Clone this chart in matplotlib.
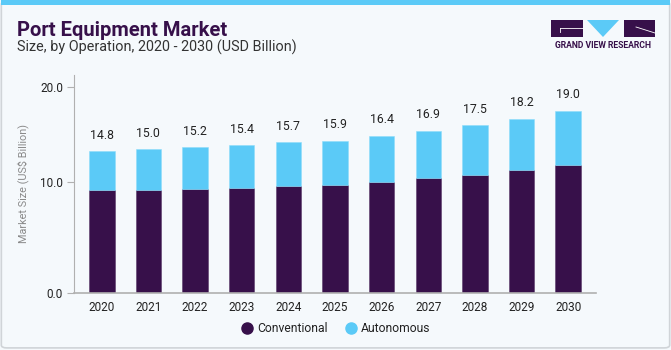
import numpy as np
import matplotlib
matplotlib.use("Agg")
import matplotlib.pyplot as plt
from matplotlib.patches import Rectangle, Polygon, FancyBboxPatch
from matplotlib.lines import Line2D

years = ["2020", "2021", "2022", "2023", "2024", "2025", "2026", "2027", "2028", "2029", "2030"]
totals = [14.8, 15.0, 15.2, 15.4, 15.7, 15.9, 16.4, 16.9, 17.5, 18.2, 19.0]
conventional = [10.7, 10.76, 10.87, 10.97, 11.15, 11.29, 11.6, 11.95, 12.33, 12.82, 13.31]
autonomous = [t - c for t, c in zip(totals, conventional)]

# the source puts its tick labels a bit off the bar scale; keep them where they sit
ytick_pos = [0, 11.6, 21.5]
ytick_labels = ["0.0", "10.0", "20.0"]

purple = "#37104a"
cyan = "#5bcaf7"
bg = "#f5f9fc"

plt.rcParams["font.family"] = ["Roboto", "DejaVu Sans"]

fig = plt.figure(figsize=(6.71, 3.5), dpi=100, facecolor=bg)


def fx(px):
    return px / 671


def fy(py):
    return 1 - py / 350


# frame and top stripe
fig.patches.append(FancyBboxPatch((0.002, 0.006), 0.996, 0.99, boxstyle="round,pad=0,rounding_size=0.008",
                                  transform=fig.transFigure, facecolor="none", edgecolor="#d0d4d8", lw=1.2))
fig.patches.append(Rectangle((0.002, fy(5)), 0.996, 5 / 350, transform=fig.transFigure,
                             facecolor=cyan, edgecolor="none"))

ax = fig.add_axes([fx(74), fy(292.7), (595.7 - 74) / 671, (292.7 - 75) / 350])
ax.set_facecolor("none")

x = np.arange(len(years))
w = 0.547
ax.bar(x, conventional, w, color=purple, edgecolor="#5a3a6a", lw=0.4)
ax.bar(x, autonomous, w, bottom=conventional, color=cyan, edgecolor="#8fdcfa", lw=0.4)

for xi, t in zip(x, totals):
    ax.text(xi, t + 1.0, f"{t:.1f}", ha="center", va="bottom", fontsize=8.8, color="#222222")

ax.set_xlim(-0.596, 10.59)
ax.set_ylim(0, 22.75)
ax.set_xticks(x)
ax.set_xticklabels(years, fontsize=8.5, color="#222222")
ax.set_yticks(ytick_pos)
ax.set_yticklabels(ytick_labels, fontsize=8.5, color="#222222")
ax.tick_params(axis="x", length=0, pad=6)
ax.tick_params(axis="y", length=5, color="#b0b0b0", width=0.8, pad=3)
for s in ["top", "right"]:
    ax.spines[s].set_visible(False)
ax.spines["left"].set_color("#b0b0b0")
ax.spines["bottom"].set_color("#b0b0b0")
ax.spines["bottom"].set_linewidth(1.2)
ax.set_ylabel("Market Size (US$ Billion)", fontsize=7.8, color="#8a8a8a", labelpad=8)

# titles
fig.text(fx(17), fy(36), "Port Equipment Market", fontsize=14.5, fontweight="bold",
         color=purple, va="baseline")
fig.text(fx(17), fy(51.7), "Size, by Operation, 2020 - 2030 (USD Billion)", fontsize=10.4,
         color="#333333", va="baseline")

# logo
fig.patches.append(Rectangle((fx(551), fy(37)), fx(583) - fx(551), fy(20) - fy(37), transform=fig.transFigure,
                             facecolor=purple, edgecolor="none"))
fig.patches.append(Polygon([(fx(587), fy(20)), (fx(619), fy(20)), (fx(603), fy(37))], closed=True,
                           transform=fig.transFigure, facecolor=cyan, edgecolor="none"))
fig.patches.append(Rectangle((fx(624), fy(37)), fx(655) - fx(624), fy(20) - fy(37), transform=fig.transFigure,
                             facecolor=purple, edgecolor="none"))
fig.lines.append(Line2D([fx(560), fx(583)], [fy(28), fy(28)], transform=fig.transFigure, color="white", lw=0.6))
fig.lines.append(Line2D([fx(560), fx(560)], [fy(28), fy(32)], transform=fig.transFigure, color="white", lw=0.6))
fig.lines.append(Line2D([fx(636), fx(655)], [fy(27), fy(33)], transform=fig.transFigure, color="white", lw=0.6))
fig.text(fx(603), fy(46), "GRAND VIEW RESEARCH", fontsize=6.2, fontweight="bold", color=purple,
         ha="center", va="center")

# legend
fig.lines.append(Line2D([fx(246.7)], [fy(328)], transform=fig.transFigure, marker="o", ms=8,
                        color=purple, ls="none"))
fig.text(fx(257), fy(328), "Conventional", fontsize=8.7, color="#222222", va="center")
fig.lines.append(Line2D([fx(350.7)], [fy(328)], transform=fig.transFigure, marker="o", ms=8,
                        color=cyan, ls="none"))
fig.text(fx(361), fy(328), "Autonomous", fontsize=8.7, color="#222222", va="center")

fig.savefig("out.png", dpi=100, facecolor=bg)
